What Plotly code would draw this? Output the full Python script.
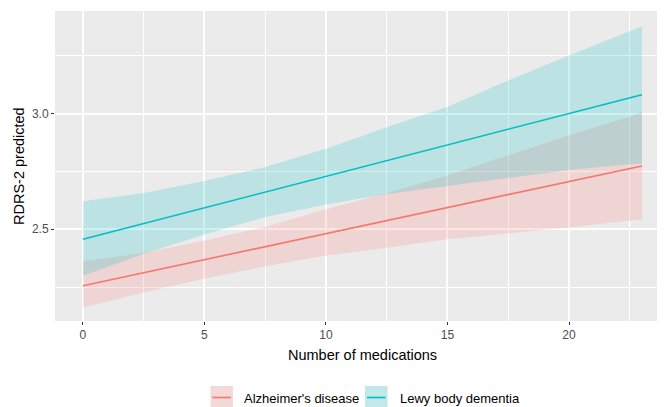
import plotly.graph_objects as go

# ---- data ----
n_medications = [0, 2.5, 5, 7.5, 10, 12.5, 15, 17.5, 20, 22.5, 23]

ad_fit = [2.256, 2.312, 2.369, 2.425, 2.481, 2.537, 2.594, 2.650, 2.706, 2.763, 2.774]
ad_low = [2.162, 2.227, 2.287, 2.340, 2.387, 2.420, 2.457, 2.482, 2.508, 2.538, 2.542]
ad_high = [2.362, 2.397, 2.452, 2.510, 2.587, 2.656, 2.733, 2.819, 2.906, 2.986, 3.006]

lbd_fit = [2.457, 2.525, 2.593, 2.661, 2.729, 2.797, 2.865, 2.932, 3.000, 3.068, 3.082]
lbd_low = [2.299, 2.394, 2.477, 2.553, 2.607, 2.653, 2.689, 2.722, 2.756, 2.781, 2.784]
lbd_high = [2.621, 2.657, 2.709, 2.769, 2.848, 2.941, 3.030, 3.143, 3.251, 3.355, 3.378]

group_names = ["Alzheimer's disease", "Lewy body dementia"]
x_ticks = [0, 5, 10, 15, 20]
y_ticks = [2.5, 3.0]
y_tick_text = ["2.5", "3.0"]

# ---- styling ----
FONT = "Liberation Sans, Arial, sans-serif"
col_ad = "#F8766D"
col_lbd = "#00BFC4"
fill_ad = "rgba(248,118,109,0.2)"
fill_lbd = "rgba(0,191,196,0.2)"

fig = go.Figure()

series = [
    (ad_low, ad_high, ad_fit, col_ad, fill_ad),
    (lbd_low, lbd_high, lbd_fit, col_lbd, fill_lbd),
]

# ribbons first
for low, high, fit, col, fill in series:
    fig.add_trace(go.Scatter(
        x=n_medications + n_medications[::-1],
        y=high + low[::-1],
        fill="toself", fillcolor=fill,
        line=dict(width=0), mode="lines",
        hoverinfo="skip", showlegend=False,
    ))
# lines on top
for (low, high, fit, col, fill), name in zip(series, group_names):
    fig.add_trace(go.Scatter(
        x=n_medications, y=fit, mode="lines", name=name,
        line=dict(color=col, width=1.6), showlegend=False,
    ))

# the page body adds an 8px offset; layout numbers below are in figure pixels
OFF = 8
W, H = 657, 399
L, R, T, B = 47, 0, 3, 86
pw = W - L - R
ph = H - T - B

def fx(px):  # px given in screen pixels
    return (px - OFF - L) / pw

def fy(py):
    return (H - B - (py - OFF)) / ph

fig.update_layout(
    width=W, height=H,
    margin=dict(l=L, r=R, t=T, b=B, pad=0),
    paper_bgcolor="white", plot_bgcolor="#EBEBEB",
    showlegend=False,
    font=dict(family=FONT, color="#000000"),
    xaxis=dict(
        range=[-1.15, 23.95], tickvals=x_ticks,
        ticks="outside", ticklen=3, tickwidth=1, tickcolor="#333333",
        tickfont=dict(size=12, color="#4D4D4D", family=FONT),
        showgrid=True, gridcolor="white", gridwidth=1.6,
        minor=dict(dtick=2.5, showgrid=True, gridcolor="white", gridwidth=0.8),
        zeroline=False, showline=False,
    ),
    yaxis=dict(
        range=[2.1035, 3.4437], tickvals=y_ticks, ticktext=y_tick_text,
        ticks="outside", ticklen=3, tickwidth=1, tickcolor="#333333",
        tickfont=dict(size=12, color="#4D4D4D", family=FONT),
        showgrid=True, gridcolor="white", gridwidth=1.6,
        minor=dict(dtick=0.25, showgrid=True, gridcolor="white", gridwidth=0.8),
        zeroline=False, showline=False,
    ),
)

# axis titles
fig.add_annotation(text="Number of medications", xref="paper", yref="paper",
                   x=fx(362.5), y=fy(355), xanchor="center", yanchor="middle",
                   showarrow=False, font=dict(size=14.5, family=FONT, color="black"))
fig.add_annotation(text="RDRS-2 predicted", xref="paper", yref="paper",
                   x=fx(19), y=fy(166), xanchor="center", yanchor="middle",
                   textangle=-90, showarrow=False,
                   font=dict(size=14.5, family=FONT, color="black"))

# legend (drawn manually to mimic ggplot keys)
keys = [
    (210.5, "#F3D9D7", col_ad, 241.5, group_names[0]),
    (365.0, "#C2E8E9", col_lbd, 397.5, group_names[1]),
]
for kx, kfill, kcol, tx, label in keys:
    fig.add_shape(type="rect", xref="paper", yref="paper",
                  x0=fx(kx), x1=fx(kx + 22.5), y0=fy(407), y1=fy(386),
                  fillcolor=kfill, line=dict(width=0), layer="above")
    fig.add_shape(type="line", xref="paper", yref="paper",
                  x0=fx(kx + 2), x1=fx(kx + 20.5), y0=fy(397.5), y1=fy(397.5),
                  line=dict(color=kcol, width=1.6), layer="above")
    fig.add_annotation(text=label, xref="paper", yref="paper",
                       x=fx(tx), y=fy(398.5), xanchor="left", yanchor="middle",
                       showarrow=False, font=dict(size=13, family=FONT, color="black"))

fig.write_html("out.html", config={"displayModeBar": False})
